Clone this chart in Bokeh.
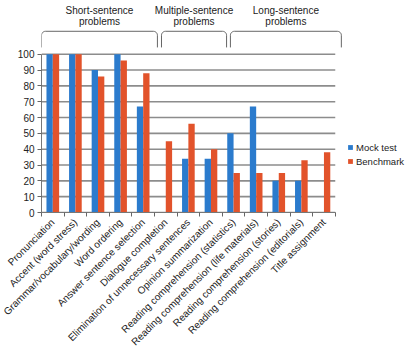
from math import pi, cos, sin
from bokeh.plotting import figure
from bokeh.models import Range1d, FixedTicker, ColumnDataSource, Legend, LegendItem
from bokeh.core.properties import value
from bokeh.embed import file_html
from bokeh.resources import INLINE

categories = [
    "Pronunciation",
    "Accent (word stress)",
    "Grammar/vocabulary/wording",
    "Word ordering",
    "Answer sentence selection",
    "Dialogue completion",
    "Elimination of unnecessary sentences",
    "Opinion summarization",
    "Reading comprehension (statistics)",
    "Reading comprehension (life materials)",
    "Reading comprehension (stories)",
    "Reading comprehension (editorials)",
    "Title assignment",
]
mock_test = [100, 100, 90, 100, 67, 0, 34, 34, 50, 67, 20, 20, 0]
benchmark = [100, 100, 86, 96, 88, 45, 56, 40, 25, 25, 25, 33, 38]
y_ticks = list(range(0, 101, 10))

group_line1 = ["Short-sentence", "Multiple-sentence", "Long-sentence"]
group_line2 = ["problems", "problems", "problems"]
group_edges = [(-0.5, 4.63), (4.81, 7.69), (7.86, 12.77)]

FONT = "Liberation Sans"
BLUE = "#2b7bcd"
RED = "#e2532b"
GRID = "#8c8c8c"

n = len(categories)
idx = list(range(n))
bar_w = 0.28

src = ColumnDataSource(dict(
    xm=[i - bar_w / 2 for i in idx],
    xb=[i + bar_w / 2 for i in idx],
    mock=mock_test,
    bench=benchmark,
))

p = figure(width=410, height=354, x_range=Range1d(-0.5, 15.83), y_range=Range1d(0, 133.95),
           output_backend="svg", toolbar_location=None,
           min_border_left=41, min_border_right=0, min_border_top=0, min_border_bottom=137)
p.outline_line_color = None
p.xgrid.visible = False
p.ygrid.visible = False

# horizontal grid lines
p.segment(x0=[-0.5] * len(y_ticks), x1=[n - 0.5] * len(y_ticks), y0=y_ticks, y1=y_ticks,
          line_color=GRID, line_width=1.6)

rm = p.vbar(x="xm", top="mock", width=bar_w, source=src, fill_color=BLUE, line_color=None)
rb = p.vbar(x="xb", top="bench", width=bar_w, source=src, fill_color=RED, line_color=None)

# x axis
xa = p.xaxis[0]
xa.ticker = FixedTicker(ticks=idx, minor_ticks=[i - 0.5 for i in range(n + 1)])
xa.major_label_overrides = {i: c for i, c in enumerate(categories)}
xa.major_label_orientation = pi / 4
xa.bounds = (-0.5, n - 0.5)
xa.major_tick_out = 0
xa.major_tick_in = 0
xa.minor_tick_out = 4
xa.minor_tick_in = 0
xa.minor_tick_line_color = "#666666"
xa.axis_line_color = "#777777"
xa.major_label_text_font = FONT
xa.major_label_text_font_size = "10px"
xa.major_label_text_color = "#222222"
xa.major_label_standoff = 4

# y axis
ya = p.yaxis[0]
ya.ticker = FixedTicker(ticks=y_ticks)
ya.bounds = (0, 100)
ya.major_tick_out = 4
ya.major_tick_in = 0
ya.minor_tick_line_color = None
ya.axis_line_color = "#777777"
ya.major_tick_line_color = "#666666"
ya.major_label_text_font = FONT
ya.major_label_text_font_size = "10px"
ya.major_label_text_color = "#222222"
ya.major_label_standoff = 3

# group braces
y_bottom, y_top = 104.3, 114.5
rx, ry = 0.18, 2.5
for (x0, x1) in group_edges:
    xs, ys = [x0], [y_bottom]
    for k in range(7):
        a = pi - (pi / 2) * k / 6
        xs.append(x0 + rx + rx * cos(a))
        ys.append(y_top - ry + ry * sin(a))
    for k in range(7):
        a = pi / 2 - (pi / 2) * k / 6
        xs.append(x1 - rx + rx * cos(a))
        ys.append(y_top - ry + ry * sin(a))
    xs.append(x1)
    ys.append(y_bottom)
    p.line(xs, ys, line_color="#666666", line_width=1)

centers = [(a + b) / 2 for a, b in group_edges]
p.text(x=centers, y=[127.8] * 3, text=group_line1, text_font=value(FONT), text_font_size="10px",
       text_align="center", text_baseline="middle", text_color="#222222")
p.text(x=centers, y=[120.6] * 3, text=group_line2, text_font=value(FONT), text_font_size="10px",
       text_align="center", text_baseline="middle", text_color="#222222")

legend = Legend(items=[LegendItem(label="Mock test", renderers=[rm]),
                       LegendItem(label="Benchmark", renderers=[rb])],
                location=(306, 45), padding=0, margin=0, spacing=2,
                glyph_width=6, glyph_height=6, label_height=12, label_standoff=3,
                label_text_font=FONT, label_text_font_size="9.5px", label_text_color="#222222",
                border_line_color=None, background_fill_alpha=0)
p.add_layout(legend, "center")

open("out.html", "w").write(file_html(p, INLINE))
